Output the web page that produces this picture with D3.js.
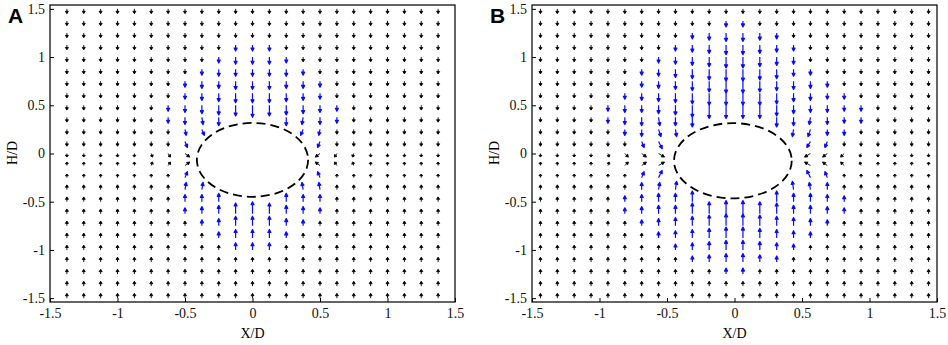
<!DOCTYPE html>
<html>
<head>
<meta charset="utf-8">
<script src="https://cdn.jsdelivr.net/npm/d3@7"></script>
<style>
body { margin: 0; background: #fff; }
svg { display: block; }
</style>
</head>
<body>
<svg id="chart" width="948" height="345"></svg>
<script>
// grid rows (H/D), shared by both panels
var gridY = [1.5, 1.375, 1.25, 1.125, 1, 0.875, 0.75, 0.625, 0.5, 0.375, 0.25, 0.125, 0,
  -0.125, -0.25, -0.375, -0.5, -0.625, -0.75, -0.875, -1, -1.125, -1.25, -1.375, -1.5]
// grid columns (X/D)
var gridXA = [-1.375, -1.25, -1.125, -1, -0.875, -0.75, -0.625, -0.5, -0.375, -0.25, -0.125, 0,
  0.125, 0.25, 0.375, 0.5, 0.625, 0.75, 0.875, 1, 1.125, 1.25, 1.375]
var gridXB = [-1.4375, -1.3125, -1.1875, -1.0625, -0.9375, -0.8125, -0.6875, -0.5625, -0.4375, -0.3125, -0.1875, -0.0625,
  0.0625, 0.1875, 0.3125, 0.4375, 0.5625, 0.6875, 0.8125, 0.9375, 1.0625, 1.1875, 1.3125, 1.4375]
// vertical direction of each row: -1 down, +1 up
var rowDir = [-1, -1, -1, -1, -1, -1, -1, -1, -1, -1, -1, -1, -1, 1, 1, 1, 1, 1, 1, 1, 1, 1, 1, 1, 1]

// vertical speed per cell, one char per column (base 36: 0-9, a=10, b=11)
var speedA = [
  "44444444444444444444444",
  "44444444444444444444444",
  "44444444444444444444444",
  "44444444445554444444444",
  "44444444456665444444444",
  "44444444566666544444444",
  "44444445667776654444444",
  "44444445678887654444444",
  "44444456789a98765444444",
  "44444456670007665444444",
  "44444445500000554444444",
  "44444445000000054444444",
  "33333333000000033333333",
  "33333333000000033333333",
  "33333335000000053333333",
  "44444446600000664444444",
  "44444446670007664444444",
  "44444445679a97654444444",
  "44444444568886544444444",
  "44444444457775444444444",
  "44444444446664444444444",
  "44444444444444444444444",
  "44444444444444444444444",
  "44444444444444444444444",
  "44444444444444444444444"
]
var speedB = [
  "444444444444444444444444",
  "444444444445544444444444",
  "444444444567765444444444",
  "444444445678876544444444",
  "444444456789987644444444",
  "44444456789aa98654444444",
  "44444456789aa98765444444",
  "4444456789aaaa9765544444",
  "444456678abbbb9766554444",
  "444456777800008766554444",
  "444445666000000665544444",
  "444444560000000055444444",
  "333333330000000033333333",
  "333333330000000033333333",
  "333333560000000065333333",
  "444444667000000766444444",
  "444445677900009776544444",
  "4444456779abba9776544444",
  "44444456789aa98765444444",
  "444444456789987654444444",
  "444444445678876544444444",
  "444444444567765444444444",
  "444444444445544444444444",
  "444444444444444444444444",
  "444444444444444444444444"
]
// horizontal components near the body: [row, column, vx]
var sideA = [[9, 8, 1], [9, 14, -1], [10, 7, 1], [10, 8, 2], [10, 14, -2], [10, 15, -1],
  [11, 7, 2], [11, 15, -2], [12, 5, 1], [12, 6, 2], [12, 7, 4], [12, 15, -4], [12, 16, -2], [12, 17, -1],
  [13, 5, 1], [13, 6, 2], [13, 7, 4], [13, 15, -4], [13, 16, -2], [13, 17, -1],
  [14, 7, 2], [14, 15, -2], [15, 7, 1], [15, 8, 1], [15, 14, -1], [15, 15, -1]]
var sideB = [[9, 7, 1], [9, 16, -1], [10, 7, 2], [10, 8, 1], [10, 15, -1], [10, 16, -2],
  [11, 6, 2], [11, 7, 3], [11, 16, -3], [11, 17, -2],
  [12, 4, 1], [12, 5, 3], [12, 6, 4], [12, 7, 5], [12, 16, -5], [12, 17, -4], [12, 18, -3], [12, 19, -1],
  [13, 4, 1], [13, 5, 3], [13, 6, 4], [13, 7, 5], [13, 16, -5], [13, 17, -4], [13, 18, -3], [13, 19, -1],
  [14, 6, 2], [14, 7, 3], [14, 16, -3], [14, 17, -2], [15, 7, 1], [15, 8, 1], [15, 15, -1], [15, 16, -1]]

// body outline: [cx, cy, rx, ry]
var bodyA = [0, -0.066, 0.412, 0.383]
var bodyB = [-0.012, -0.075, 0.436, 0.39]

var tickVals = [-1.5, -1, -0.5, 0, 0.5, 1, 1.5]

var svg = d3.select("#chart")
var pxPerUnit = 1.2 // arrow length scale
var blueFrom = 5    // speed at which arrows turn blue

function arrowPath(x0, y0, dx, dy) {
  var len = Math.hypot(dx, dy)
  var ux = dx / len, uy = dy / len
  var h = Math.min(3, len * 0.5), w = 1.5
  var x1 = x0 + dx, y1 = y0 + dy
  var bx = x1 - ux * h, by = y1 - uy * h
  return "M" + x0 + "," + y0 + "L" + bx + "," + by +
    "M" + x1 + "," + y1 + "L" + (bx - uy * w) + "," + (by + ux * w) +
    "L" + (bx + uy * w) + "," + (by - ux * w) + "Z"
}

function drawPanel(p) {
  var x = d3.scaleLinear().domain([-1.5, 1.5]).range([p.left, p.right])
  var y = d3.scaleLinear().domain([-1.54, 1.54]).range([302, 5])
  var g = svg.append("g")

  var side = {}
  p.side.forEach(s => side[s[0] + "_" + s[1]] = s[2])

  var arrows = []
  p.speed.forEach((row, j) => {
    row.split("").forEach((c, k) => {
      var m = parseInt(c, 36)
      if (!m) return
      var vx = side[j + "_" + k] || 0
      var vy = rowDir[j] * m
      arrows.push({
        d: arrowPath(x(p.gridX[k]), y(gridY[j]), vx * pxPerUnit, -vy * pxPerUnit),
        blue: m >= blueFrom
      })
    })
  })

  g.append("g").selectAll("path")
    .data(arrows)
    .enter().append("path")
    .attr("d", d => d.d)
    .attr("stroke", d => d.blue ? "#0a0aff" : "#000")
    .attr("fill", d => d.blue ? "#0a0aff" : "#000")
    .attr("stroke-width", d => d.blue ? 1.2 : 0.9)
    .attr("stroke-linejoin", "round")

  // body outline
  g.append("ellipse")
    .attr("cx", x(p.body[0]))
    .attr("cy", y(p.body[1]))
    .attr("rx", x(p.body[2]) - x(0))
    .attr("ry", y(0) - y(p.body[3]))
    .attr("fill", "none")
    .attr("stroke", "#000")
    .attr("stroke-width", 1.8)
    .attr("stroke-dasharray", "9,5")

  g.append("rect")
    .attr("x", p.left).attr("y", 5)
    .attr("width", p.right - p.left).attr("height", 297)
    .attr("fill", "none").attr("stroke", "#111").attr("stroke-width", 1.3)

  var fmt = d => String(d)
  var xa = g.append("g").attr("transform", "translate(0,302)")
    .call(d3.axisBottom(x).tickValues(tickVals).tickSize(-4).tickPadding(6).tickFormat(fmt))
  var ya = g.append("g").attr("transform", "translate(" + p.left + ",0)")
    .call(d3.axisLeft(y).tickValues(tickVals).tickSize(-4).tickPadding(5).tickFormat(fmt))
  ;[xa, ya].forEach(a => {
    a.select(".domain").remove()
    a.attr("font-family", "'Liberation Serif', serif").attr("font-size", 14)
    a.selectAll("text").attr("fill", "#111")
  })

  g.append("text")
    .attr("x", (p.left + p.right) / 2).attr("y", 338)
    .attr("text-anchor", "middle")
    .attr("font-family", "'Liberation Serif', serif").attr("font-size", 14)
    .text("X/D")
  g.append("text")
    .attr("transform", "translate(" + (p.left - 33) + ",153) rotate(-90)")
    .attr("text-anchor", "middle")
    .attr("font-family", "'Liberation Serif', serif").attr("font-size", 14)
    .text("H/D")
  g.append("text")
    .attr("x", p.left - 42).attr("y", 23)
    .attr("font-family", "'Liberation Sans', Arial, sans-serif").attr("font-size", 21)
    .attr("font-weight", "bold")
    .text(p.letter)
}

drawPanel({ left: 50, right: 455, gridX: gridXA, speed: speedA, side: sideA, body: bodyA, letter: "A" })
drawPanel({ left: 532, right: 937, gridX: gridXB, speed: speedB, side: sideB, body: bodyB, letter: "B" })
</script>
</body>
</html>
